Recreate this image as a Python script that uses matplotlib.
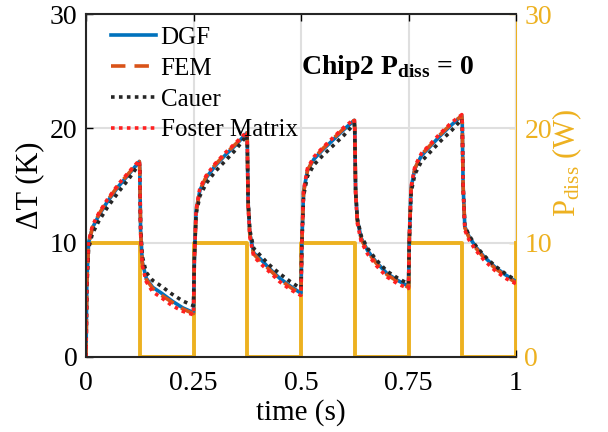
import matplotlib
matplotlib.use("Agg")
import matplotlib.pyplot as plt

# time samples (s)
t = [0.000, 0.002, 0.006, 0.015, 0.030, 0.050, 0.075, 0.100, 0.124,
     0.125, 0.127, 0.131, 0.140, 0.155, 0.175, 0.200, 0.225, 0.249,
     0.250, 0.252, 0.256, 0.265, 0.280, 0.300, 0.325, 0.350, 0.374,
     0.375, 0.377, 0.381, 0.390, 0.405, 0.425, 0.450, 0.475, 0.499,
     0.500, 0.502, 0.506, 0.515, 0.530, 0.550, 0.575, 0.600, 0.624,
     0.625, 0.627, 0.631, 0.640, 0.655, 0.675, 0.700, 0.725, 0.749,
     0.750, 0.752, 0.756, 0.765, 0.780, 0.800, 0.825, 0.850, 0.874,
     0.875, 0.877, 0.881, 0.890, 0.905, 0.925, 0.950, 0.975, 1.000]

dgf = [0.0, 6.5, 10.0, 11.3, 12.4, 13.6, 14.9, 16.0, 17.1,
       16.5, 11.0, 8.3, 6.9, 6.1, 5.6, 4.9, 4.3, 3.9,
       3.9, 8.5, 12.8, 14.6, 15.7, 16.7, 17.7, 18.6, 19.6,
       19.0, 13.5, 10.8, 9.1, 8.6, 7.8, 6.9, 6.2, 5.6,
       5.6, 10.0, 14.5, 16.3, 17.3, 18.1, 19.0, 19.9, 20.7,
       20.0, 14.5, 12.0, 10.4, 9.3, 8.3, 7.3, 6.7, 6.2,
       6.2, 10.5, 14.8, 16.5, 17.6, 18.4, 19.4, 20.3, 21.1,
       20.5, 15.0, 11.4, 10.6, 9.7, 8.8, 7.9, 7.2, 6.6]

fem = [0.0, 6.4, 9.9, 11.3, 12.5, 13.7, 15.0, 16.1, 17.1,
       16.4, 11.0, 8.2, 6.8, 6.0, 5.4, 4.8, 4.2, 3.8,
       3.8, 8.4, 12.7, 14.6, 15.8, 16.8, 17.8, 18.7, 19.6,
       19.0, 13.4, 10.7, 9.0, 8.4, 7.7, 6.8, 6.1, 5.5,
       5.5, 9.9, 14.4, 16.3, 17.4, 18.2, 19.1, 20.0, 20.7,
       20.0, 14.4, 11.9, 10.3, 9.2, 8.2, 7.2, 6.6, 6.1,
       6.1, 10.4, 14.7, 16.5, 17.7, 18.5, 19.5, 20.4, 21.1,
       20.5, 14.9, 11.3, 10.5, 9.6, 8.7, 7.8, 7.1, 6.5]

cauer = [0.0, 6.0, 9.5, 10.8, 11.9, 13.1, 14.4, 15.6, 16.9,
         16.4, 11.3, 8.8, 7.4, 6.7, 6.2, 5.5, 4.9, 4.5,
         4.5, 8.6, 12.5, 14.1, 15.2, 16.2, 17.2, 18.2, 19.4,
         18.9, 13.7, 11.1, 9.5, 8.9, 8.1, 7.3, 6.6, 6.0,
         6.0, 9.9, 14.1, 15.8, 16.8, 17.6, 18.5, 19.4, 20.4,
         19.8, 14.5, 12.1, 10.6, 9.5, 8.5, 7.5, 6.9, 6.4,
         6.4, 10.2, 14.4, 16.0, 17.1, 17.9, 18.9, 19.8, 20.8,
         20.3, 15.0, 11.5, 10.7, 9.8, 8.9, 8.0, 7.3, 6.7]

foster = [0.0, 6.6, 10.1, 11.5, 12.6, 13.8, 15.1, 16.2, 17.2,
          16.5, 10.8, 8.0, 6.6, 5.7, 5.2, 4.5, 4.0, 3.7,
          3.7, 8.5, 12.9, 14.8, 15.9, 16.9, 17.9, 18.8, 19.7,
          19.0, 13.3, 10.5, 8.8, 8.2, 7.5, 6.6, 5.9, 5.4,
          5.4, 10.1, 14.6, 16.5, 17.5, 18.3, 19.2, 20.1, 20.8,
          20.0, 14.3, 11.7, 10.1, 9.0, 8.0, 7.0, 6.4, 6.0,
          6.0, 10.6, 14.9, 16.7, 17.8, 18.6, 19.6, 20.5, 21.2,
          20.5, 14.8, 11.1, 10.3, 9.4, 8.5, 7.6, 6.9, 6.4]

# dissipated power square wave (W), right axis has the same 0-30 range
t_p = [0, 0, 0.125, 0.125, 0.25, 0.25, 0.375, 0.375, 0.5, 0.5,
       0.625, 0.625, 0.75, 0.75, 0.875, 0.875, 1.0, 1.0]
p = [0, 10, 10, 0, 0, 10, 10, 0, 0, 10, 10, 0, 0, 10, 10, 0, 0, 10]

xticks = [0, 0.25, 0.5, 0.75, 1]
xticklabels = ['0', '0.25', '0.5', '0.75', '1']
yticks = [0, 10, 20, 30]

plt.rcParams['font.family'] = 'Liberation Serif'
plt.rcParams['mathtext.fontset'] = 'custom'
plt.rcParams['mathtext.rm'] = 'Liberation Serif'
plt.rcParams['mathtext.it'] = 'Liberation Serif:italic'
plt.rcParams['mathtext.bf'] = 'Liberation Serif:bold'

orange = '#EDB120'
fig = plt.figure(figsize=(6.08, 4.32), dpi=100)
ax = fig.add_axes([86 / 608, 75 / 432, 430 / 608, 343 / 432])
ax2 = ax.twinx()
ax.set_zorder(ax2.get_zorder() + 1)
ax.patch.set_visible(False)

ax.grid(True, color='#DFDFDF', linewidth=1.5, zorder=0)
ax.set_axisbelow(True)

lw = 2.6
ax.plot(t_p, p, color=orange, lw=2.8, zorder=1.5)
ax.plot(t, dgf, color='#0072BD', lw=lw, label='DGF', zorder=2)
ax.plot(t, fem, color='#D95319', lw=lw, dashes=(4, 2.5), label='FEM', zorder=2.1)
ax.plot(t, cauer, color='#262626', lw=lw, linestyle=(0, (1, 1.2)), label='Cauer', zorder=2.2)
ax.plot(t, foster, color='#FF2020', lw=lw, linestyle=(0, (1, 1.2)), label='Foster Matrix', zorder=2.3)

ax.set_xlim(0, 1)
ax.set_ylim(0, 30)
ax2.set_ylim(0, 30)
ax.set_xticks(xticks)
ax.set_xticklabels(xticklabels)
ax.set_yticks(yticks)
ax2.set_yticks(yticks)

ax.tick_params(direction='in', length=5, width=1, labelsize=20, top=True)
ax.tick_params(axis='x', pad=10)
ax.tick_params(axis='y', right=False, pad=6)
ax2.tick_params(direction='in', length=5, width=1, labelsize=20, colors=orange, pad=6)
for s in ['left', 'bottom', 'top']:
    ax.spines[s].set_linewidth(1.5)
    ax.spines[s].set_color('#262626')
ax.spines['right'].set_visible(False)
ax2.spines['right'].set_color(orange)
ax2.spines['right'].set_linewidth(1.5)
for s in ['left', 'bottom', 'top']:
    ax2.spines[s].set_visible(False)

ax.set_xlabel('time (s)', fontsize=21, labelpad=2)
ax.set_ylabel('ΔT (K)', fontsize=22, labelpad=4)
ax2.set_ylabel('P$_{\\rm diss}$ (W)', fontsize=22, color=orange, va='center')
ax2.yaxis.set_label_coords((567 - 86) / 430, 0.565)

ax.text(0.5, 0.845, 'Chip2 P$_{\\bf diss}$ = 0', transform=ax.transAxes,
        fontsize=20, fontweight='bold', va='center', ha='left')

ax.legend(loc='upper left', bbox_to_anchor=(0.04, 0.985), frameon=False,
          fontsize=18, handlelength=1.8, handletextpad=0.2,
          labelspacing=0.33, borderaxespad=0.1, borderpad=0.2)

fig.savefig('out.png', dpi=100)
